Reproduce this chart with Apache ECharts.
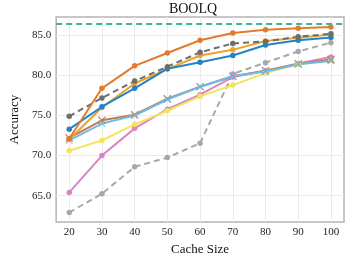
<!DOCTYPE html>
<html><head><meta charset="utf-8">
<script src="https://cdn.jsdelivr.net/npm/echarts@6/dist/echarts.min.js"></script>
<style>html,body{margin:0;padding:0;background:#fff}#c{width:349px;height:261px}</style>
</head><body><div id="c"></div>
<script>
const cacheSizes = [20, 30, 40, 50, 60, 70, 80, 90, 100];
const xTicks = [20, 30, 40, 50, 60, 70, 80, 90, 100];
const yTicks = [65, 70, 75, 80, 85];
const fullCache = 86.4;
const lightGrayDash = [62.9, 65.25, 68.6, 69.75, 71.55, 80.2, 81.6, 83.0, 84.1];
const pinkVals = [65.4, 70.0, 73.4, 75.8, 77.6, 79.8, 80.6, 81.5, 82.3];
const yellowVals = [70.6, 71.9, 73.9, 75.6, 77.4, 78.8, 80.3, 81.4, 81.9];
const lightBlueVals = [71.9, 74.0, 75.0, 77.0, 78.6, 79.9, 80.5, 81.4, 81.8];
const brownVals = [72.2, 74.4, 75.1, 77.1, 78.6, 79.9, 80.6, 81.45, 82.0];
const blueVals = [73.3, 76.1, 78.4, 80.85, 81.65, 82.5, 83.8, 84.4, 84.75];
const goldVals = [72.0, 76.0, 79.0, 80.8, 82.5, 83.2, 84.3, 84.7, 85.1];
const darkGrayDash = [74.9, 77.2, 79.3, 81.1, 82.9, 84.0, 84.25, 84.85, 85.2];
const orangeVals = [72.1, 78.4, 81.2, 82.8, 84.4, 85.3, 85.7, 85.9, 86.05];

const XMARK = 'path://M1,0L5,4L9,0L10,1L6,5L10,9L9,10L5,6L1,10L0,9L4,5L0,1Z';
function mk(name, vals, color, opts) {
  opts = opts || {};
  return {
    name: name, type: 'line',
    data: cacheSizes.map((c, i) => [c, vals[i]]),
    symbol: opts.symbol || 'circle',
    symbolSize: opts.symbolSize || 5.5,
    lineStyle: { color: color, width: 2, type: opts.dash ? [6, 4] : 'solid' },
    itemStyle: { color: color },
    emphasis: { disabled: true },
    z: 2
  };
}
const series = [
  mk('gray2', lightGrayDash, '#a8a8a8', { dash: true }),
  mk('pink', pinkVals, '#d985c4'),
  mk('yellow', yellowVals, '#f2e55c'),
  mk('brown', brownVals, '#c87a47', { symbol: XMARK, symbolSize: 8 }),
  mk('lightblue', lightBlueVals, '#6dbde9', { symbol: XMARK, symbolSize: 7 }),
  mk('gold', goldVals, '#eda424'),
  mk('blue', blueVals, '#2383c3'),
  mk('gray1', darkGrayDash, '#6e6e6e', { dash: true }),
  mk('orange', orangeVals, '#e57a2e')
];
series[0].markLine = {
  silent: true, symbol: 'none', label: { show: false },
  lineStyle: { color: '#3cb692', width: 2, type: [6, 4] },
  data: [{ yAxis: fullCache }]
};
const font = 'Liberation Serif';
const chart = echarts.init(document.getElementById('c'), null, { renderer: 'canvas' });
chart.setOption({
  animation: false,
  backgroundColor: '#fff',
  title: { text: 'BOOLQ', left: 193, top: 2, padding: 0, textAlign: 'center',
    textStyle: { fontFamily: font, fontSize: 14, fontWeight: 'normal', color: '#111' } },
  grid: { left: 42, right: 5, top: 17, bottom: 33, show: true, borderColor: '#b5b5b5', borderWidth: 1.5, containLabel: false },
  xAxis: {
    type: 'value', min: 16, max: 104,
    name: 'Cache Size', nameLocation: 'middle', nameGap: 19,
    nameTextStyle: { fontFamily: font, fontSize: 13, color: '#111' },
    axisLine: { show: false },
    axisTick: { show: false, customValues: xTicks },
    axisLabel: { customValues: xTicks, fontFamily: font, fontSize: 11, color: '#222', margin: 5 },
    splitLine: { show: true, lineStyle: { color: '#ebebeb', width: 1 } }
  },
  yAxis: {
    type: 'value', min: 61.7, max: 87.3,
    name: 'Accuracy', nameLocation: 'middle', nameGap: 35,
    nameTextStyle: { fontFamily: font, fontSize: 13, color: '#111' },
    axisLine: { show: false },
    axisTick: { show: false, customValues: yTicks },
    axisLabel: { customValues: yTicks, fontFamily: font, fontSize: 11, color: '#222', margin: 5,
      formatter: v => Number(v).toFixed(1) },
    splitLine: { show: true, lineStyle: { color: '#ebebeb', width: 1 } }
  },
  series: series
});
</script></body></html>
